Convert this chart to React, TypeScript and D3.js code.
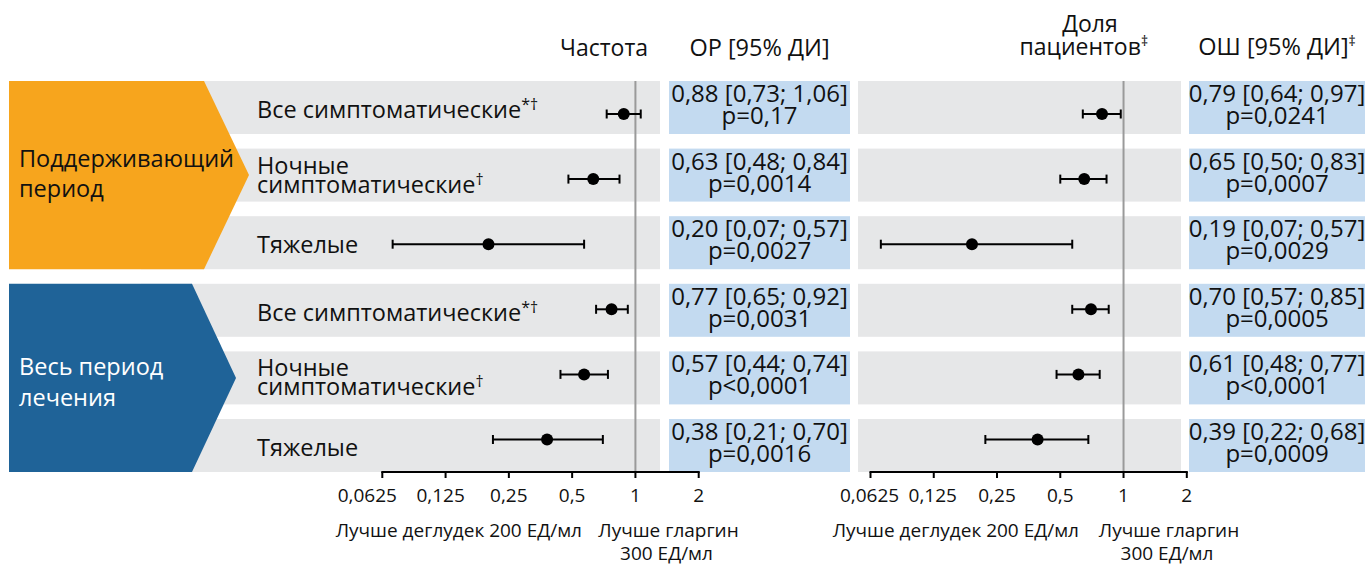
import React from "react";
import * as d3 from "d3";

// rows (top to bottom)
const rowNames = [
  "Все симптоматические",
  "Ночные симптоматические",
  "Тяжелые",
  "Все симптоматические",
  "Ночные симптоматические",
  "Тяжелые",
];
const rowMarks = ["*†", "†", "", "*†", "†", ""];
const periods = ["Поддерживающий период", "Весь период лечения"];

// rate ratio (частота)
const rrEst = [0.88, 0.63, 0.2, 0.77, 0.57, 0.38];
const rrLow = [0.73, 0.48, 0.07, 0.65, 0.44, 0.21];
const rrHigh = [1.06, 0.84, 0.57, 0.92, 0.74, 0.7];
const rrP = ["p=0,17", "p=0,0014", "p=0,0027", "p=0,0031", "p<0,0001", "p=0,0016"];

// odds ratio (доля пациентов)
const orEst = [0.79, 0.65, 0.19, 0.7, 0.61, 0.39];
const orLow = [0.64, 0.5, 0.07, 0.57, 0.48, 0.22];
const orHigh = [0.97, 0.83, 0.57, 0.85, 0.77, 0.68];
const orP = ["p=0,0241", "p=0,0007", "p=0,0029", "p=0,0005", "p<0,0001", "p=0,0009"];

const tickValues = [0.0625, 0.125, 0.25, 0.5, 1, 2];
const tickLabels = ["0,0625", "0,125", "0,25", "0,5", "1", "2"];

const FONT = "'Open Sans', 'Noto Sans', sans-serif";
const ORANGE = "#F7A51D";
const BLUE = "#1F6398";
const GRAY = "#E6E7E8";
const LIGHT = "#C3DAF0";

const fmt = (v: number) => d3.format(".2f")(v).replace(".", ",");

const rowY = d3
  .scaleBand<number>()
  .domain(d3.range(rowNames.length))
  .range([81, 472])
  .paddingInner(0.216)
  .paddingOuter(0);

const markY = d3.scalePoint<number>().domain(d3.range(rowNames.length)).range([114, 439.5]);

const panels = [
  {
    key: "rr",
    x: d3.scaleLog().base(2).domain([0.0625, 2]).range([382.3, 698.7]),
    grayX: [141, 660],
    boxX: [669, 850],
    est: rrEst,
    low: rrLow,
    high: rrHigh,
    p: rrP,
    leftFoot: 582,
    rightFoot: 668.5,
    labelShift: [-15, -5, 0, 0, 0, 0],
  },
  {
    key: "or",
    x: d3.scaleLog().base(2).domain([0.0625, 2]).range([870.5, 1186.8]),
    grayX: [858, 1181],
    boxX: [1189, 1365],
    est: orEst,
    low: orLow,
    high: orHigh,
    p: orP,
    leftFoot: 1079,
    rightFoot: 1169,
    labelShift: [-1, -1, 0, 0, 0, 0],
  },
];

const arrows = [
  { rows: [0, 2], corner: 204, tip: 249, fill: ORANGE, text: "#111", dy: [-8, 22] },
  { rows: [3, 5], corner: 192, tip: 236, fill: BLUE, text: "#fff", dy: [-3, 28] },
];

export default function App() {
  const axisY = rowY(5)! + rowY.bandwidth();
  return (
    <svg
      width={1368}
      height={565}
      style={{ position: "absolute", left: 0, top: 0, background: "#fff" }}
      fontFamily={FONT}
    >
      {/* gray row bands */}
      {panels.map((pn) =>
        rowNames.map((_, i) => (
          <rect
            key={pn.key + "g" + i}
            x={pn.grayX[0]}
            y={rowY(i)}
            width={pn.grayX[1] - pn.grayX[0]}
            height={rowY.bandwidth()}
            fill={GRAY}
          />
        ))
      )}

      {/* period arrows */}
      {arrows.map((a, gi) => {
        const y0 = rowY(a.rows[0])!;
        const y1 = rowY(a.rows[1])! + rowY.bandwidth();
        const mid = (y0 + y1) / 2;
        const pts = [
          [9, y0],
          [a.corner, y0],
          [a.tip, mid],
          [a.corner, y1],
          [9, y1],
        ];
        const words = periods[gi].split(" ");
        const lines = gi === 0 ? [words[0], words[1]] : [words[0] + " " + words[1], words[2]];
        return (
          <g key={"a" + gi}>
            <polygon points={pts.map((p) => p.join(",")).join(" ")} fill={a.fill} />
            {lines.map((t, li) => (
              <text key={li} x={19} y={mid + a.dy[li]} fontSize={23.5} fill={a.text}>
                {t}
              </text>
            ))}
          </g>
        );
      })}

      {/* row labels */}
      {rowNames.map((name, i) => {
        const top = rowY(i)!;
        const parts = name.split(" ");
        if (parts.length === 1 || i % 3 === 0) {
          return (
            <text key={"r" + i} x={257} y={top + 37} fontSize={23.5} fill="#111">
              {name}
              {rowMarks[i] && (
                <tspan fontSize={16} dy={-8}>
                  {rowMarks[i]}
                </tspan>
              )}
            </text>
          );
        }
        return (
          <text key={"r" + i} x={257} y={top + 25} fontSize={23.5} fill="#111">
            {parts[0]}
            <tspan x={257} dy={19}>
              {parts[1]}
            </tspan>
            {rowMarks[i] && (
              <tspan fontSize={16} dy={-8}>
                {rowMarks[i]}
              </tspan>
            )}
          </text>
        );
      })}

      {panels.map((pn) => {
        const x = pn.x;
        const boxMid = (pn.boxX[0] + pn.boxX[1]) / 2;
        return (
          <g key={pn.key}>
            {/* reference line at 1 */}
            <line x1={x(1)} x2={x(1)} y1={rowY(0)} y2={axisY} stroke="#9a9a9a" strokeWidth={2} />

            {/* estimate boxes */}
            {rowNames.map((_, i) => (
              <g key={"b" + i}>
                <rect
                  x={pn.boxX[0]}
                  y={rowY(i)}
                  width={pn.boxX[1] - pn.boxX[0]}
                  height={rowY.bandwidth()}
                  fill={LIGHT}
                />
                <text x={boxMid} y={rowY(i)! + 21} fontSize={24} textAnchor="middle" fill="#111">
                  {`${fmt(pn.est[i])} [${fmt(pn.low[i])}; ${fmt(pn.high[i])}]`}
                </text>
                <text x={boxMid} y={rowY(i)! + 43} fontSize={24} textAnchor="middle" fill="#111">
                  {pn.p[i]}
                </text>
              </g>
            ))}

            {/* error bars */}
            {rowNames.map((_, i) => {
              const cy = markY(i)!;
              return (
                <g key={"e" + i} stroke="#000" strokeWidth={2}>
                  <line x1={x(pn.low[i])} x2={x(pn.high[i])} y1={cy} y2={cy} />
                  <line x1={x(pn.low[i])} x2={x(pn.low[i])} y1={cy - 4.5} y2={cy + 4.5} />
                  <line x1={x(pn.high[i])} x2={x(pn.high[i])} y1={cy - 4.5} y2={cy + 4.5} />
                  <circle cx={x(pn.est[i])} cy={cy} r={6} fill="#000" stroke="none" />
                </g>
              );
            })}

            {/* axis */}
            <line
              x1={x(tickValues[0]) - 1}
              x2={x(tickValues[tickValues.length - 1]) + 1}
              y1={axisY}
              y2={axisY}
              stroke="#000"
              strokeWidth={2}
            />
            {tickValues.map((t, k) => (
              <g key={"t" + k}>
                <line x1={x(t)} x2={x(t)} y1={axisY} y2={axisY + 6} stroke="#000" strokeWidth={2} />
                <text
                  x={x(t) + pn.labelShift[k]}
                  y={502}
                  fontSize={19}
                  textAnchor="middle"
                  fill="#111"
                >
                  {tickLabels[k]}
                </text>
              </g>
            ))}
            <text x={pn.leftFoot} y={537} fontSize={19} textAnchor="end" fill="#111">
              Лучше деглудек 200 ЕД/мл
            </text>
            <text x={pn.rightFoot} y={537} fontSize={19} textAnchor="middle" fill="#111">
              Лучше гларгин
            </text>
            <text x={pn.rightFoot - 2} y={560} fontSize={19} textAnchor="middle" fill="#111">
              300 ЕД/мл
            </text>
          </g>
        );
      })}

      {/* headers */}
      <text x={648} y={56} fontSize={23} textAnchor="end" fill="#111">
        Частота
      </text>
      <text x={759.5} y={56} fontSize={23.5} textAnchor="middle" fill="#111">
        ОР [95% ДИ]
      </text>
      <text x={1090} y={32} fontSize={23} textAnchor="middle" fill="#111">
        Доля
      </text>
      <text x={1148} y={55} fontSize={23} textAnchor="end" fill="#111">
        пациентов
        <tspan fontSize={14} dy={-9}>
          ‡
        </tspan>
      </text>
      <text x={1277} y={55} fontSize={23.5} textAnchor="middle" fill="#111">
        ОШ [95% ДИ]
        <tspan fontSize={14} dy={-9}>
          ‡
        </tspan>
      </text>
    </svg>
  );
}
